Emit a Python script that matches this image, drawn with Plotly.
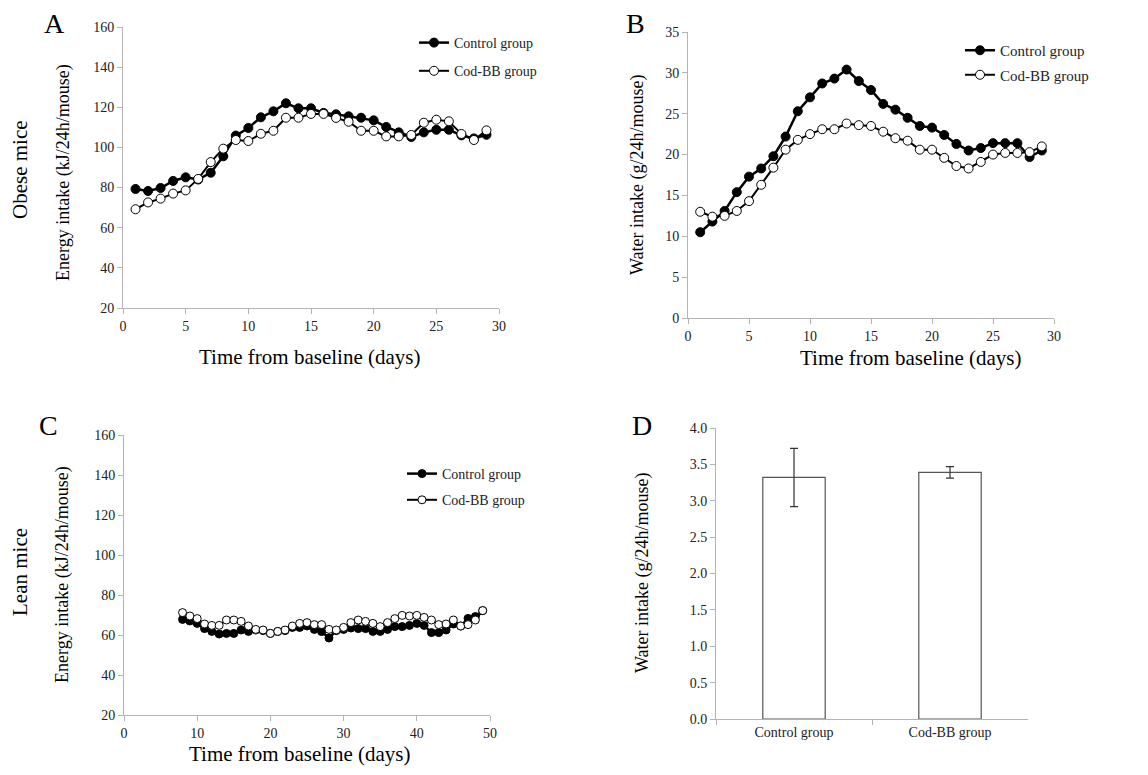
import plotly.graph_objects as go

# ---------------- data ----------------
days_obese = list(range(1, 30))
energy_obese_control = [79.3, 78.3, 79.8, 83.3, 85.1, 84.0, 87.4, 95.6, 105.9, 109.7, 115.0, 118.0, 122.0, 119.5, 119.5,
                        117.2, 116.5, 115.5, 114.8, 113.5, 110.2, 107.5, 105.2, 107.5, 108.8, 108.8, 106.0, 104.5, 106.3]
energy_obese_codbb = [69.2, 72.6, 74.5, 77.0, 78.6, 84.3, 92.7, 99.4, 103.7, 103.2, 106.8, 108.3, 114.8, 114.8, 116.7,
                      116.7, 114.7, 112.8, 108.3, 108.3, 105.5, 105.5, 106.2, 112.3, 113.8, 113.0, 106.7, 103.7, 108.5]

water_obese_control = [10.5, 11.8, 13.1, 15.4, 17.3, 18.3, 19.8, 22.2, 25.3, 27.0, 28.7, 29.3, 30.4, 29.0, 27.9,
                       26.2, 25.5, 24.5, 23.5, 23.3, 22.4, 21.3, 20.5, 20.8, 21.4, 21.4, 21.4, 19.7, 20.5]
water_obese_codbb = [13.0, 12.4, 12.5, 13.1, 14.3, 16.3, 18.4, 20.6, 21.8, 22.5, 23.1, 23.1, 23.8, 23.6, 23.5,
                     22.8, 22.0, 21.7, 20.6, 20.6, 19.6, 18.6, 18.3, 19.1, 20.0, 20.2, 20.2, 20.3, 21.0]

days_lean = list(range(8, 50))
energy_lean_control = [67.8, 67.0, 65.8, 63.2, 61.8, 60.5, 60.8, 60.8, 62.5, 61.8, 62.5, 62.2, 60.8, 61.7, 62.2,
                       63.8, 63.8, 64.5, 62.8, 61.7, 58.5, 62.2, 62.8, 63.5, 63.2, 63.2, 61.8, 61.8, 62.8, 64.2,
                       64.2, 64.8, 65.8, 64.8, 61.2, 61.2, 62.5, 65.5, 64.5, 68.3, 69.2, 72.2]
energy_lean_codbb = [71.2, 69.5, 68.2, 65.5, 64.8, 64.8, 67.5, 67.5, 66.8, 64.5, 62.8, 62.5, 60.8, 61.8, 62.5,
                     64.5, 65.8, 66.2, 65.2, 65.2, 62.8, 62.5, 63.8, 66.2, 67.5, 66.8, 65.8, 64.2, 66.2, 68.2,
                     69.8, 69.5, 69.8, 68.8, 67.5, 65.2, 65.5, 67.5, 64.5, 65.2, 67.5, 72.2]

groups = ["Control group", "Cod-BB group"]
water_lean_mean = [3.32, 3.39]
water_lean_err = [0.40, 0.08]

# ---------------- styling ----------------
OFF = 8                      # page body margin
W, H = 1148 - 2 * OFF, 775 - 2 * OFF
FONT = "Liberation Serif"
AXC = "#b4b4b4"
TXT = "#222222"

def px(x):
    return (x - OFF) / W

def py(y):
    return 1 - (y - OFF) / H

def dom_x(a, b):
    return [px(a), px(b)]

def dom_y(top, bot):
    return [py(bot), py(top)]

fig = go.Figure()

def add_pair(x, yc, yo, xa, ya, leg, ms):
    fig.add_trace(go.Scatter(x=x, y=yc, mode="lines+markers", name="Control group",
                             line=dict(color="black", width=2.5),
                             marker=dict(symbol="circle", size=ms, color="black", line=dict(color="black", width=1)),
                             xaxis=xa, yaxis=ya, legend=leg, legendgroup=leg + "c"))
    fig.add_trace(go.Scatter(x=x, y=yo, mode="lines+markers", name="Cod-BB group",
                             line=dict(color="black", width=2),
                             marker=dict(symbol="circle", size=ms, color="white", line=dict(color="black", width=1)),
                             xaxis=xa, yaxis=ya, legend=leg, legendgroup=leg + "o"))

add_pair(days_obese, energy_obese_control, energy_obese_codbb, "x", "y", "legend", 9)
add_pair(days_obese, water_obese_control, water_obese_codbb, "x2", "y2", "legend2", 9)
add_pair(days_lean, energy_lean_control, energy_lean_codbb, "x3", "y3", "legend3", 8)

fig.add_trace(go.Bar(x=groups, y=water_lean_mean, width=0.4,
                     marker=dict(color="white", line=dict(color="#555555", width=1.2)),
                     error_y=dict(type="data", array=water_lean_err, color="#333333", thickness=1.2, width=4),
                     xaxis="x4", yaxis="y4", showlegend=False))

tickfont = dict(family=FONT, size=14, color=TXT)
common_ax = dict(showline=True, linecolor=AXC, linewidth=1, ticks="outside", tickcolor=AXC, ticklen=5,
                 showgrid=False, zeroline=False, tickfont=tickfont, automargin=False)

layout = dict(
    width=W, height=H, margin=dict(l=0, r=0, t=0, b=0, autoexpand=False),
    paper_bgcolor="white", plot_bgcolor="white",
    font=dict(family=FONT, color=TXT),
    xaxis=dict(domain=dom_x(123, 499), range=[0, 30], dtick=5, anchor="y", **common_ax),
    yaxis=dict(domain=dom_y(27, 308), range=[20, 160], dtick=20, anchor="x", **common_ax),
    xaxis2=dict(domain=dom_x(688, 1054), range=[0, 30], dtick=5, anchor="y2", **common_ax),
    yaxis2=dict(domain=dom_y(32, 318), range=[0, 35], dtick=5, anchor="x2", **common_ax),
    xaxis3=dict(domain=dom_x(124, 490), range=[0, 50], dtick=10, anchor="y3", **common_ax),
    yaxis3=dict(domain=dom_y(435, 715), range=[20, 160], dtick=20, anchor="x3", **common_ax),
    xaxis4=dict(domain=dom_x(716, 1028), range=[-0.5, 1.5], anchor="y4", tickson="boundaries", **common_ax),
    yaxis4=dict(domain=dom_y(428, 719), range=[0, 4], dtick=0.5, tickformat=".1f", anchor="x4", **common_ax),
    bargap=0.6,
)

def legend_at(x_px, y_px, size, gap):
    return dict(x=px(x_px), y=py(y_px), xanchor="left", yanchor="top",
                bgcolor="rgba(0,0,0,0)", font=dict(family=FONT, size=size, color=TXT),
                tracegroupgap=gap, traceorder="grouped", itemwidth=30)

layout["legend"] = legend_at(414, 27, 14, 7)
layout["legend2"] = legend_at(960, 34, 15, 2)
layout["legend3"] = legend_at(402, 458, 14, 5)

fig.update_layout(**layout)

ann = []
def text(x, y, s, size, angle=0, xanchor="center"):
    ann.append(dict(x=px(x), y=py(y), xref="paper", yref="paper", text=s, showarrow=False,
                    textangle=angle, xanchor=xanchor, yanchor="middle",
                    font=dict(family=FONT, size=size, color="black")))

# panel letters
text(55, 24, "A", 28)
text(635, 24, "B", 28)
text(48, 425, "C", 28)
text(642, 425, "D", 28)
# row labels
text(20, 170, "Obese mice", 21, -90)
text(20, 572, "Lean mice", 21, -90)
# y titles
text(64, 173, "Energy intake (kJ/24h/mouse)", 18, -90)
text(637, 175, "Water intake (g/24h/mouse)", 18, -90)
text(62, 575, "Energy intake (kJ/24h/mouse)", 18, -90)
text(642, 573, "Water intake (g/24h/mouse)", 18, -90)
# x titles
text(309, 357, "Time from baseline (days)", 21)
text(910, 358, "Time from baseline (days)", 21)
text(299, 754, "Time from baseline (days)", 21)

fig.update_layout(annotations=ann)
fig.write_html("out.html")
